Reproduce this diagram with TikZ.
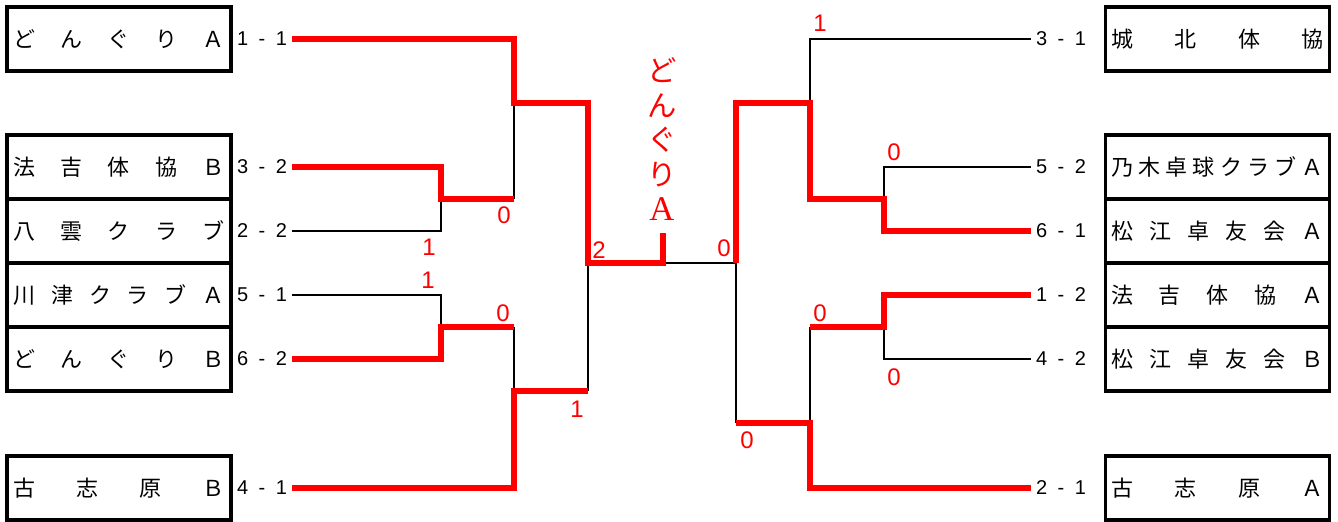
\documentclass[tikz,border=0pt]{standalone}
\usepackage{fontspec}
\setmainfont{Liberation Sans}
\newfontfamily\cjk{Noto Sans CJK JP}
\newfontfamily\serifA{Liberation Serif}
\newlength\pxu
\setlength\pxu{0.75pt}
\begin{document}
\begin{tikzpicture}[x=0.75pt,y=-0.75pt,
  team/.style={draw, line width=2.3pt, minimum width=224\pxu, minimum height=64\pxu, inner sep=0pt, font=\cjk\fontsize{16.5pt}{18pt}\selectfont},
  score/.style={inner sep=0pt, font=\fontsize{15pt}{16pt}\selectfont},
  pts/.style={text=red, inner sep=0pt, font=\fontsize{18pt}{20pt}\selectfont},
  win/.style={draw=red, line width=4.5pt, line join=miter},
  lose/.style={draw=black, line width=1.8pt}]
\useasboundingbox (0,0) rectangle (1338,521);
% teams left
\node[team] (t1) at (119,39) {\makebox[211\pxu][s]{ど\hfill ん\hfill ぐ\hfill り\hfill Ａ}};
\node[team] (t2) at (119,167) {\makebox[211\pxu][s]{法\hfill 吉\hfill 体\hfill 協\hfill Ｂ}};
\node[team] (t3) at (119,231) {\makebox[211\pxu][s]{八\hfill 雲\hfill ク\hfill ラ\hfill ブ}};
\node[team] (t4) at (119,295) {\makebox[211\pxu][s]{川\hfill 津\hfill ク\hfill ラ\hfill ブ\hfill Ａ}};
\node[team] (t5) at (119,359) {\makebox[211\pxu][s]{ど\hfill ん\hfill ぐ\hfill り\hfill Ｂ}};
\node[team] (t6) at (119,488) {\makebox[211\pxu][s]{古\hfill 志\hfill 原\hfill Ｂ}};
% teams right
\node[team] (u1) at (1217.5,39) {\makebox[213\pxu][s]{城\hfill 北\hfill 体\hfill 協}};
\node[team] (u2) at (1217.5,167) {\makebox[213\pxu][s]{乃\hfill 木\hfill 卓\hfill 球\hfill ク\hfill ラ\hfill ブ\hfill Ａ}};
\node[team] (u3) at (1217.5,231) {\makebox[213\pxu][s]{松\hfill 江\hfill 卓\hfill 友\hfill 会\hfill Ａ}};
\node[team] (u4) at (1217.5,295) {\makebox[213\pxu][s]{法\hfill 吉\hfill 体\hfill 協\hfill Ａ}};
\node[team] (u5) at (1217.5,359) {\makebox[213\pxu][s]{松\hfill 江\hfill 卓\hfill 友\hfill 会\hfill Ｂ}};
\node[team] (u6) at (1217.5,488) {\makebox[213\pxu][s]{古\hfill 志\hfill 原\hfill Ａ}};
% scores
\node[score] (s1) at (262,39) {\makebox[50\pxu][s]{1\hfill -\hfill 1}};
\node[score] (s2) at (262,167) {\makebox[50\pxu][s]{3\hfill -\hfill 2}};
\node[score] (s3) at (262,231) {\makebox[50\pxu][s]{2\hfill -\hfill 2}};
\node[score] (s4) at (262,295) {\makebox[50\pxu][s]{5\hfill -\hfill 1}};
\node[score] (s5) at (262,359) {\makebox[50\pxu][s]{6\hfill -\hfill 2}};
\node[score] (s6) at (262,488) {\makebox[50\pxu][s]{4\hfill -\hfill 1}};
\node[score] (r1) at (1061,39) {\makebox[50\pxu][s]{3\hfill -\hfill 1}};
\node[score] (r2) at (1061,167) {\makebox[50\pxu][s]{5\hfill -\hfill 2}};
\node[score] (r3) at (1061,231) {\makebox[50\pxu][s]{6\hfill -\hfill 1}};
\node[score] (r4) at (1061,295) {\makebox[50\pxu][s]{1\hfill -\hfill 2}};
\node[score] (r5) at (1061,359) {\makebox[50\pxu][s]{4\hfill -\hfill 2}};
\node[score] (r6) at (1061,488) {\makebox[50\pxu][s]{2\hfill -\hfill 1}};
% coordinates
\coordinate (a1) at (292,39);
\coordinate (a2) at (292,167);
\coordinate (a3) at (292,231);
\coordinate (a4) at (292,295);
\coordinate (a5) at (292,359);
\coordinate (a6) at (292,488);
\coordinate (b1) at (1031,39);
\coordinate (b2) at (1031,167);
\coordinate (b3) at (1031,231);
\coordinate (b4) at (1031,295);
\coordinate (b5) at (1031,359);
\coordinate (b6) at (1031,488);
\coordinate (j1) at (441,199);
\coordinate (j2) at (441,327);
\coordinate (j3) at (514,103);
\coordinate (j4) at (514,391);
\coordinate (j5) at (588,263);
\coordinate (f) at (663,263);
\coordinate (f2) at (663,233);
\coordinate (k1) at (884,199);
\coordinate (k2) at (884,327);
\coordinate (k3) at (810,103);
\coordinate (k4) at (810,423);
\coordinate (k5) at (736,263);
% black lines
\draw[lose] (a3) -| (j1);
\draw[lose] (a4) -| (j2);
\draw[lose] (j1 -| j3) -- (j3);
\draw[lose] (j2 -| j4) -- (j4);
\draw[lose] (j4 -| j5) -- (j5);
\draw[lose] (f) -- (k5);
\draw[lose] (b1) -| (k3);
\draw[lose] (b2) -| (k1);
\draw[lose] (b5) -| (k2);
\draw[lose] (k2 -| k4) -- (k4);
\draw[lose] (k4 -| k5) -- (k5);
% red lines
\draw[win] (a1) -| (j3) -| (j5) -- (f) -- (f2);
\draw[win] (a2) -| (j1) -- (j1 -| j3);
\draw[win] (a5) -| (j2) -- (j2 -| j4);
\draw[win] (a6) -| (j4) -- (j4 -| j5);
\draw[win] (b3) -| (k1) -- (k1 -| k3) -- (k3) -| (k5);
\draw[win] (b4) -| (k2) -- (k2 -| k4);
\draw[win] (b6) -| (k4) -- (k4 -| k5);
% points
\node[pts] (p1) at (504,215) {0};
\node[pts] (p2) at (429,247) {1};
\node[pts] (p3) at (428,280) {1};
\node[pts] (p4) at (503,313) {0};
\node[pts] (p5) at (577,409) {1};
\node[pts] (p6) at (599,250) {2};
\node[pts] (p7) at (724,248) {0};
\node[pts] (p8) at (820,23) {1};
\node[pts] (p9) at (894,152) {0};
\node[pts] (p10) at (820,313) {0};
\node[pts] (p11) at (894,377) {0};
\node[pts] (p12) at (747,440) {0};
% champion
\node[text=red, align=center, inner sep=0pt, font=\cjk\fontsize{22pt}{26pt}\selectfont] (champ) at (662,139) {ど\\ん\\ぐ\\り\\{\serifA\fontsize{26pt}{26pt}\selectfont A}};
\end{tikzpicture}
\end{document}
